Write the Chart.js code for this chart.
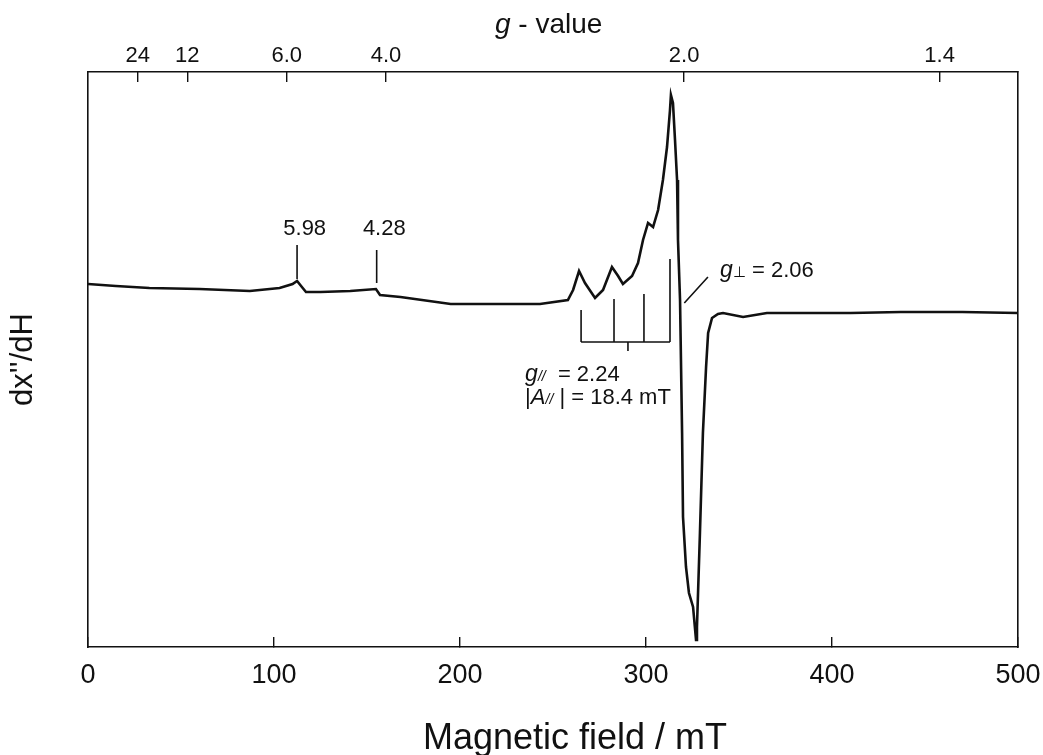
<!DOCTYPE html>
<html>
<head>
<meta charset="utf-8">
<script src="https://cdn.jsdelivr.net/npm/chart.js@4.4.1/dist/chart.umd.min.js"></script>
<style>
  body { margin: 0; background: #fff; }
  #wrap { width: 1043px; height: 755px; }
</style>
</head>
<body>
<div id="wrap"><canvas id="epr-spectrum"></canvas></div>
<script>
const FONT = "'Liberation Sans', Arial, Helvetica, sans-serif";

// magnetic field (mT) and first-derivative signal (arb. units)
const fieldMT = [0, 15, 33, 60, 87, 103, 110, 112.4, 115, 117.2, 125, 141, 154.8, 157, 168, 195, 221, 243,
  258, 260.8, 264, 267.2, 272.6, 276.9, 281.7, 285, 287.6, 292.5, 295.7, 298.4, 301.1, 303.8, 306.5, 309.1,
  311.3, 312.9, 313.4, 314.5, 315.6, 316.7, 317.2, 318.3, 319.4, 319.9, 321.5, 323.1, 325.3, 326.9, 327.4,
  329, 330.6, 332.3, 333.4, 335.5, 338.7, 341.4, 352.2, 365, 410, 437, 470, 500];
const signal = [16, 14, 12, 11, 9, 12, 16, 19, 13, 8, 8, 9, 11, 5, 3, -4, -4, -4,
  0, 10, 29, 17, 2, 10, 33, 24, 16, 24, 37, 60, 77, 73, 90, 120,
  153, 190, 205, 197, 160, 120, 60, 0, -133, -217, -267, -293, -307, -340, -327,
  -233, -133, -67, -33, -18, -14, -13, -17, -13, -13, -12, -12, -13];

// top axis: g-values, field = hv/(g*muB)
const hvOverMuB = 641;
const gTicks = [24, 12, 6.0, 4.0, 2.0, 1.4];
const gLabels = ['24', '12', '6.0', '4.0', '2.0', '1.4'];

// marked features
const markerField = [112.4, 155.2];
const markerLabels = ['5.98', '4.28'];
const gParSticks = [265.1, 282.8, 298.9, 312.9];
const gParStickTops = [-10, 1, 6, 41];

function richText(ctx, x, y, parts) {
  parts.forEach(p => {
    ctx.font = (p.italic ? 'italic ' : '') + p.size + 'px ' + FONT;
    ctx.fillText(p.text, x, y + (p.dy || 0));
    x += ctx.measureText(p.text).width;
  });
}

const annotations = {
  id: 'annotations',
  afterDraw(chart) {
    const ctx = chart.ctx;
    const xs = chart.scales.x, ys = chart.scales.y;
    const px = v => xs.getPixelForValue(v);
    const py = v => ys.getPixelForValue(v);
    ctx.save();
    ctx.strokeStyle = '#111';
    ctx.fillStyle = '#111';
    ctx.lineWidth = 1.6;

    // 5.98 / 4.28 markers
    markerField.forEach((f, i) => {
      ctx.beginPath();
      ctx.moveTo(px(f), py(i === 0 ? 55 : 50));
      ctx.lineTo(px(f), py(i === 0 ? 21 : 17));
      ctx.stroke();
      ctx.font = '22px ' + FONT;
      ctx.textAlign = 'center';
      ctx.textBaseline = 'middle';
      ctx.fillText(markerLabels[i], px(f + 4.1), py(71.5));
    });

    // g-parallel hyperfine stick diagram
    ctx.beginPath();
    gParSticks.forEach((f, i) => {
      ctx.moveTo(px(f), py(gParStickTops[i]));
      ctx.lineTo(px(f), py(-42));
    });
    ctx.moveTo(px(gParSticks[0]), py(-42));
    ctx.lineTo(px(gParSticks[3]), py(-42));
    ctx.moveTo(px(290.3), py(-42));
    ctx.lineTo(px(290.3), py(-51));
    // g-perp pointer
    ctx.moveTo(px(320.6), py(-3));
    ctx.lineTo(px(333.3), py(23));
    ctx.stroke();

    ctx.textAlign = 'left';
    ctx.textBaseline = 'alphabetic';
    richText(ctx, px(339.8), py(23), [
      { text: 'g', italic: true, size: 23 },
      { text: '\u22A5', size: 15 },
      { text: ' = 2.06', size: 22 }
    ]);
    richText(ctx, px(235), py(-81), [
      { text: 'g', italic: true, size: 23 },
      { text: '//', italic: true, size: 14 },
      { text: '  = 2.24', size: 22 }
    ]);
    richText(ctx, px(235), py(-104), [
      { text: '|', size: 22 },
      { text: 'A', italic: true, size: 22 },
      { text: '//', italic: true, size: 14 },
      { text: ' | = 18.4 mT', size: 22 }
    ]);

    // axis titles that need mixed styles / offset placement
    richText(ctx, 495, 33, [
      { text: 'g', italic: true, size: 28 },
      { text: ' - value', size: 28 }
    ]);
    ctx.textAlign = 'center';
    ctx.font = '36px ' + FONT;
    ctx.fillText('Magnetic field / mT', 575, 749);
    ctx.restore();
  }
};

const spectrumData = fieldMT.map((f, i) => ({ x: f, y: signal[i] }));

new Chart(document.getElementById('epr-spectrum'), {
  type: 'line',
  data: {
    datasets: [{
      data: spectrumData,
      borderColor: '#111',
      borderWidth: 2.6,
      pointRadius: 0,
      tension: 0
    }]
  },
  options: {
    responsive: true,
    maintainAspectRatio: false,
    animation: false,
    layout: { padding: { right: 25 } },
    plugins: {
      legend: { display: false },
      tooltip: { enabled: false }
    },
    scales: {
      x: {
        type: 'linear',
        position: 'bottom',
        min: 0,
        max: 500,
        afterFit: s => { s.height = 108; s.paddingLeft = 0; s.paddingRight = 0; },
        border: { color: '#111', width: 1.6 },
        grid: { drawOnChartArea: false, tickLength: -10, color: '#111', lineWidth: 1.4 },
        ticks: { stepSize: 100, padding: 22, color: '#111', font: { size: 27, family: FONT } }
      },
      x2: {
        type: 'linear',
        position: 'top',
        min: 0,
        max: 500,
        afterFit: s => { s.height = 72; s.paddingLeft = 0; s.paddingRight = 0; },
        afterBuildTicks: s => { s.ticks = gTicks.map(g => ({ value: hvOverMuB / g })); },
        border: { color: '#111', width: 1.6 },
        grid: { drawOnChartArea: false, tickLength: -10, color: '#111', lineWidth: 1.4 },
        ticks: {
          padding: 13,
          color: '#111',
          autoSkip: false,
          maxRotation: 0,
          font: { size: 22, family: FONT },
          callback: (value, index) => gLabels[index]
        }
      },
      y: {
        min: -347,
        max: 228,
        afterFit: s => { s.width = 88; },
        border: { color: '#111', width: 1.6 },
        grid: { drawOnChartArea: false, drawTicks: false },
        ticks: { display: false },
        title: {
          display: true,
          text: "dx''/dH",
          color: '#111',
          padding: { top: 5, bottom: 0 },
          font: { size: 31, family: FONT }
        }
      },
      y2: {
        position: 'right',
        min: -347,
        max: 228,
        afterFit: s => { s.width = 0; },
        border: { color: '#111', width: 1.6 },
        grid: { drawOnChartArea: false, drawTicks: false },
        ticks: { display: false }
      }
    }
  },
  plugins: [annotations]
});
</script>
</body>
</html>
